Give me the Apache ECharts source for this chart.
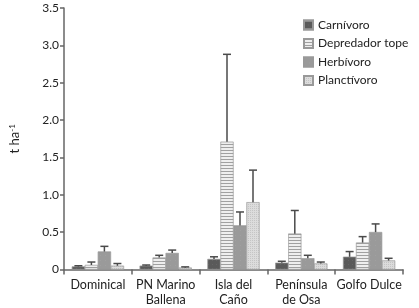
<!DOCTYPE html>
<html><head><meta charset="utf-8">
<script src="https://cdn.jsdelivr.net/npm/echarts@6/dist/echarts.min.js"></script>
<style>html,body{margin:0;padding:0;background:#fff}#c{width:419px;height:308px}</style>
</head><body><div id="c"></div>
<script>
const categories = ['Dominical', 'PN Marino\nBallena', 'Isla del\nCaño', 'Península\nde Osa', 'Golfo Dulce'];
const seriesNames = ['Carnívoro', 'Depredador tope', 'Herbívoro', 'Planctívoro'];
const carnivoro = [0.04, 0.05, 0.14, 0.09, 0.17];
const carnivoroErr = [0.01, 0.01, 0.03, 0.02, 0.07];
const depredador = [0.06, 0.16, 1.71, 0.48, 0.36];
const depredadorErr = [0.04, 0.03, 1.17, 0.31, 0.08];
const herbivoro = [0.24, 0.22, 0.59, 0.15, 0.50];
const herbivoroErr = [0.07, 0.04, 0.18, 0.04, 0.11];
const planctivoro = [0.05, 0.025, 0.90, 0.08, 0.12];
const planctivoroErr = [0.03, 0.01, 0.43, 0.02, 0.03];
const yTicks = [0, 0.5, 1.0, 1.5, 2.0, 2.5, 3.0, 3.5];

const values = [carnivoro, depredador, herbivoro, planctivoro];
const errs = [carnivoroErr, depredadorErr, herbivoroErr, planctivoroErr];
const colors = ['#5a5a5a', '#eeeeee', '#9a9a9a', '#dcdcdc'];
const decals = [
  {symbol: 'rect', symbolSize: 0.6, dashArrayX: [1, 3], dashArrayY: [1, 3], color: 'rgba(140,140,140,0.8)'},
  {symbol: 'rect', symbolSize: 1, dashArrayX: [1, 0], dashArrayY: [1, 2], rotation: 0, color: '#a0a0a0'},
  {symbol: 'rect', symbolSize: 0.6, dashArrayX: [1, 4], dashArrayY: [1, 4], color: 'rgba(190,190,190,0.6)'},
  {symbol: 'rect', symbolSize: 0.8, dashArrayX: [1, 1], dashArrayY: [1, 1], color: 'rgba(180,180,180,0.7)'}
];
const BW = 13;
const font = 'Lato';

const series = [];
values.forEach((v, i) => {
  series.push({
    name: seriesNames[i], type: 'bar', data: v, barWidth: BW, barGap: '0%',
    itemStyle: {color: colors[i], borderColor: '#999', borderWidth: 0.4, decal: decals[i]},
    emphasis: {disabled: true}
  });
});
values.forEach((v, i) => {
  const off = (i - 1.5) * BW;
  series.push({
    type: 'custom', silent: true, z: 5,
    data: v.map((m, k) => [k, m, m + errs[i][k]]),
    renderItem: function (params, api) {
      const p0 = api.coord([api.value(0), api.value(1)]);
      const p1 = api.coord([api.value(0), api.value(2)]);
      const x = p0[0] + off;
      const st = {stroke: '#4a4a4a', lineWidth: 1.5};
      return {type: 'group', children: [
        {type: 'line', shape: {x1: x, y1: p0[1], x2: x, y2: p1[1]}, style: st},
        {type: 'line', shape: {x1: x - 4, y1: p1[1], x2: x + 4, y2: p1[1]}, style: st}
      ]};
    }
  });
});

const chart = echarts.init(document.getElementById('c'), null, {renderer: 'canvas'});
chart.setOption({
  animation: false,
  backgroundColor: '#fff',
  grid: {left: 50, right: 16, top: 8, bottom: 38.5, containLabel: false},
  legend: {
    data: seriesNames, left: 298, top: 14, orient: 'vertical',
    itemWidth: 9, itemHeight: 9, itemGap: 6.5, icon: 'rect',
    textStyle: {fontFamily: font, fontSize: 12, color: '#222', padding: [0, 0, 0, 0]}
  },
  xAxis: {
    type: 'category', data: categories,
    axisLine: {lineStyle: {color: '#666', width: 1.5}},
    axisTick: {show: true, length: 5, lineStyle: {color: '#666', width: 1.5}},
    axisLabel: {interval: 0, fontFamily: font, fontSize: 12.5, color: '#222', margin: 8, lineHeight: 15}
  },
  yAxis: {
    type: 'value', min: 0, max: 3.5, interval: 0.5,
    name: '{a|t ha}{s|-1}', nameLocation: 'middle', nameGap: 43, nameRotate: 90,
    nameTextStyle: {rich: {
      a: {fontFamily: font, fontSize: 13, color: '#222'},
      s: {fontFamily: font, fontSize: 8, color: '#222', verticalAlign: 'top', padding: [0, 0, 5, 0]}
    }},
    splitLine: {show: false},
    axisLine: {show: true, lineStyle: {color: '#666', width: 1.5}},
    axisTick: {show: true, length: 4, lineStyle: {color: '#666', width: 1.5}},
    axisLabel: {fontFamily: font, fontSize: 12, color: '#222', margin: 5,
      formatter: v => (v === 0 ? '0' : v.toFixed(1))}
  },
  series: series
});
</script></body></html>
